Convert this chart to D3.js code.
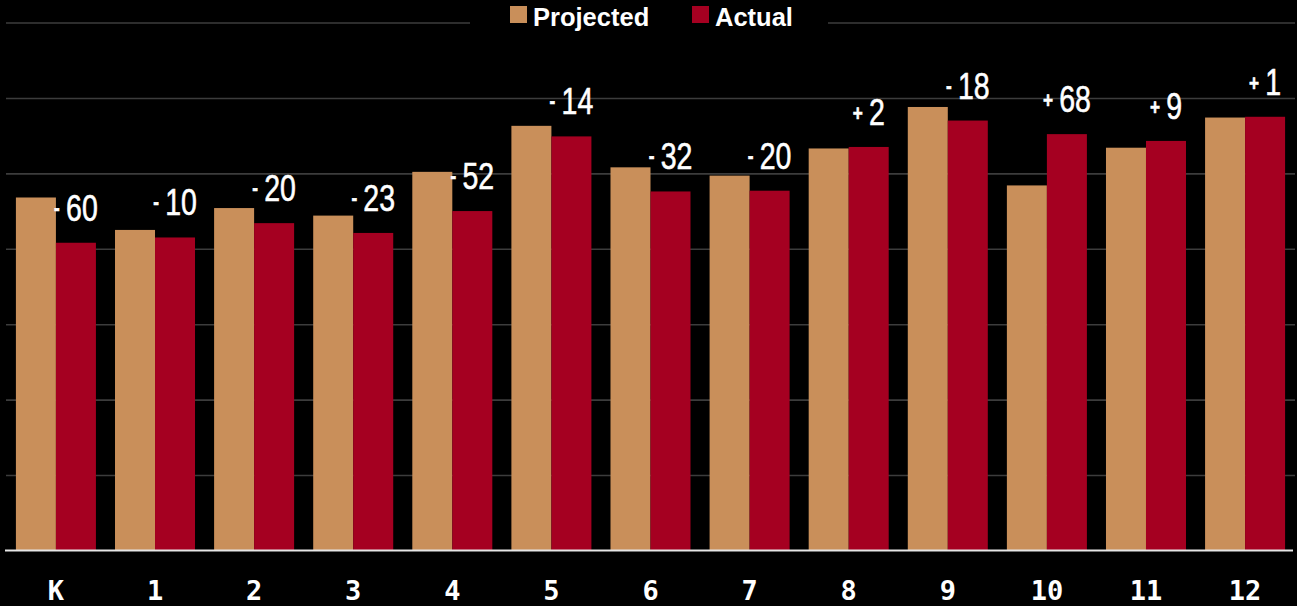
<!DOCTYPE html>
<html>
<head>
<meta charset="utf-8">
<script src="https://cdn.jsdelivr.net/npm/d3@7"></script>
<style>
  html, body { margin: 0; padding: 0; background: #000; }
  svg { display: block; }
</style>
</head>
<body>
<svg id="chart" width="1297" height="606"></svg>
<script>
const categories = ["K", "1", "2", "3", "4", "5", "6", "7", "8", "9", "10", "11", "12"];
const projected = [468, 425, 454, 444, 502, 563, 508, 497, 533, 588, 484, 534, 574];
const actual    = [408, 415, 434, 421, 450, 549, 476, 477, 535, 570, 552, 543, 575];
const seriesNames = ["Projected", "Actual"];
const seriesColors = ["#C98F5A", "#A50021"];
const yTicks = [100, 200, 300, 400, 500, 600, 700];

(function () {
const svg = d3.select("#chart");
const mLeft = 6, mRight = 1295, mTop = 22.5, mBottom = 550.5;

const x = d3.scaleBand().domain(categories).range([mLeft, mRight]).paddingInner(0.1926).paddingOuter(0.1);
const xs = d3.scaleBand().domain(seriesNames).range([0, x.bandwidth()]).padding(0);
const y = d3.scaleLinear().domain([0, 700]).range([mBottom, mTop]);

// gridlines
const grid = svg.append("g").attr("transform", `translate(${mLeft},0)`)
  .call(d3.axisLeft(y).tickValues(yTicks).tickSize(-(mRight - mLeft)).tickFormat(""));
grid.select(".domain").remove();
grid.selectAll("line").attr("stroke", "#3c3c3c").attr("stroke-width", 1.6);

// bars
const rows = categories.map((c, i) => ({ cat: c, vals: [projected[i], actual[i]] }));
const groups = svg.append("g").selectAll("g").data(rows).join("g")
  .attr("transform", d => `translate(${x(d.cat)},0)`);
groups.selectAll("rect").data(d => d.vals.map((v, j) => ({ s: seriesNames[j], v, j })))
  .join("rect")
  .attr("x", d => xs(d.s))
  .attr("width", xs.bandwidth())
  .attr("y", d => y(d.v))
  .attr("height", d => y(0) - y(d.v))
  .attr("fill", d => seriesColors[d.j]);

// baseline
svg.append("line").attr("x1", 5).attr("x2", 1293).attr("y1", y(0)).attr("y2", y(0))
  .attr("stroke", "#e6e6e6").attr("stroke-width", 2);

// difference labels (condensed via horizontal scale)
const labelFont = "'Liberation Sans', Arial, sans-serif";
rows.forEach((d, i) => {
  const diff = actual[i] - projected[i];
  const cx = x(d.cat) + xs("Actual") + xs.bandwidth() / 2;
  const g = svg.append("g")
    .attr("transform", `translate(${cx},${y(actual[i]) - 22}) scale(0.78,1)`);
  const t = g.append("text")
    .attr("x", 0).attr("y", 0)
    .attr("text-anchor", "middle")
    .attr("fill", "#fff")
    .attr("stroke", "#fff")
    .attr("stroke-width", 0.6)
    .style("font-family", labelFont);
  t.append("tspan").attr("font-size", 22).attr("font-weight", "bold")
    .attr("dy", diff < 0 ? -6 : -4).text(diff < 0 ? "-" : "+");
  t.append("tspan").attr("font-size", 36.5).attr("dx", 8)
    .attr("dy", diff < 0 ? 6 : 4).text(Math.abs(diff));
});

// x axis labels
const xa = svg.append("g").attr("transform", `translate(0,${mBottom})`)
  .call(d3.axisBottom(x).tickSize(0));
xa.select(".domain").remove();
xa.selectAll("text")
  .attr("y", 49.5).attr("dy", 0)
  .attr("fill", "#fff")
  .style("font-family", "'DejaVu Sans Mono', monospace")
  .style("font-weight", "bold")
  .style("font-size", "27px");

// legend
svg.append("rect").attr("x", 470).attr("y", 0).attr("width", 358).attr("height", 36).attr("fill", "#000");
const legendX = [510, 692];
seriesNames.forEach((s, j) => {
  svg.append("rect").attr("x", legendX[j]).attr("y", 6).attr("width", 17).attr("height", 17)
    .attr("fill", seriesColors[j]);
  svg.append("text").attr("x", legendX[j] + 23).attr("y", 26)
    .attr("fill", "#fff")
    .style("font-family", "'Liberation Sans', Arial, sans-serif")
    .style("font-weight", "bold")
    .style("font-size", "25.5px")
    .text(s);
});
})();
</script>
</body>
</html>
